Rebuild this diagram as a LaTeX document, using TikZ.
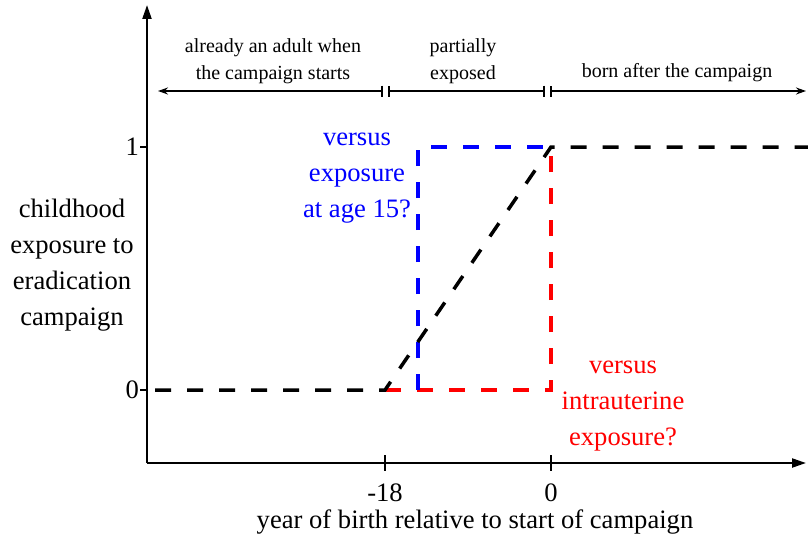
\documentclass[tikz,border=0pt]{standalone}
\usepackage{fontspec}
\setmainfont{Liberation Serif}
\usetikzlibrary{arrows.meta}
\tikzset{
  axis/.style={line width=2.2pt},
  dsh/.style={line width=3.5pt, dash pattern=on 16pt off 16pt},
  bigtxt/.style={font=\fontsize{26.6}{36}\selectfont, align=center},
  smalltxt/.style={font=\fontsize{20}{27}\selectfont, align=center},
  rng/.style={line width=1.6pt},
}
\begin{document}
\begin{tikzpicture}[x=1pt,y=-1pt]
\useasboundingbox (0,0) rectangle (808,535);
% coordinates
\coordinate (O) at (147,463);
\coordinate (Ytop) at (147,5);
\coordinate (Xend) at (806,463);
\coordinate (z0) at (155,390);
\coordinate (a0) at (385,390);
\coordinate (b0) at (418,390);
\coordinate (c0) at (551,390);
\coordinate (b1) at (418,147);
\coordinate (c1) at (551,147);
\coordinate (e1) at (808,147);
% axes
\draw[axis,-{Triangle[length=14pt,width=9pt]}] (O) -- (Ytop);
\draw[axis,-{Triangle[length=14pt,width=9pt]}] (O) -- (Xend);
% y ticks
\draw[line width=1.2pt] (140,147) -- (147,147);
\draw[line width=1.2pt] (140,390) -- (147,390);
\node[bigtxt, anchor=east, inner sep=1pt] (l1) at (140,147) {1};
\node[bigtxt, anchor=east, inner sep=1pt] (l0) at (140,390) {0};
% x ticks
\draw[line width=1.2pt] (385,455) -- (385,471);
\draw[line width=1.2pt] (551,455) -- (551,471);
\node[bigtxt] (m18) at (385,493) {-18};
\node[bigtxt] (z) at (551,493) {0};
\node[bigtxt] (xlab) at (475,522) {year of birth relative to start of campaign};
\node[bigtxt] (ylab) at (72,265) {childhood\\exposure to\\eradication\\campaign};
% curves
\draw[dsh, red] (a0) -- (c0) -- (c1);
\draw[dsh, blue] (b0) -- (b1) -- (c1);
\draw[dsh, black] (z0) -- (a0) -- (c1) -- (e1);
% labels
\node[bigtxt, blue] (bl) at (357,178) {versus\\exposure\\at age 15?};
\node[bigtxt, red] (rl) at (623,406) {versus\\intrauterine\\exposure?};
% ranges
\coordinate (r0) at (158,91);
\coordinate (r1) at (383,91);
\coordinate (r2) at (388,91);
\coordinate (r3) at (545,91);
\coordinate (r4) at (550,91);
\coordinate (r5) at (806,91);
\draw[rng, {Stealth[length=10pt,width=7pt]}-{Bar[width=11pt]}] (r0) -- (r1);
\draw[rng, {Bar[width=11pt]}-{Bar[width=11pt]}] (r2) -- (r3);
\draw[rng, {Bar[width=11pt]}-{Stealth[length=10pt,width=7pt]}] (r4) -- (r5);
\node[smalltxt] (t1) at (273,61) {already an adult when\\the campaign starts};
\node[smalltxt] (t2) at (463,61) {partially\\exposed};
\node[smalltxt] (t3) at (677,73) {born after the campaign};
\end{tikzpicture}
\end{document}
